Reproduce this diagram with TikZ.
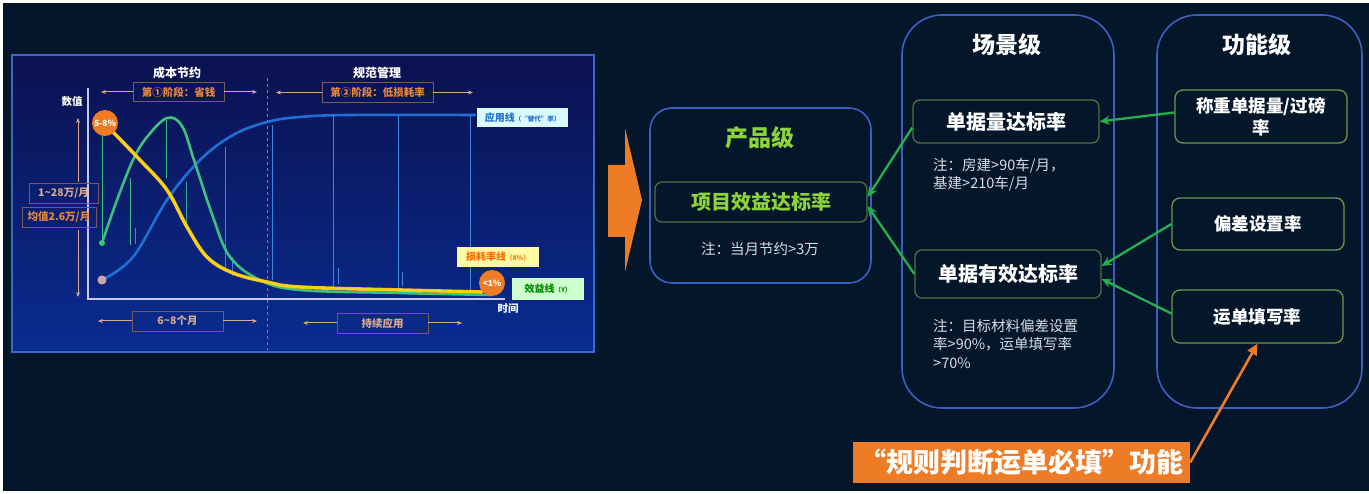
\documentclass[tikz,border=0pt]{standalone}
\usepackage{fontspec}
\setmainfont{Noto Sans CJK SC}
\usetikzlibrary{arrows.meta,shapes.geometric}

\definecolor{bg}{HTML}{03162A}
\definecolor{panelTop}{HTML}{0B1150}
\definecolor{panelBot}{HTML}{0A2C90}
\definecolor{panelEdge}{HTML}{3A6AC8}
\definecolor{frameBlue}{HTML}{3C5FC0}
\definecolor{boxGreen}{HTML}{52703F}
\definecolor{funcGreen}{HTML}{6A9A4E}
\definecolor{linkGreen}{HTML}{22B050}
\definecolor{lime}{HTML}{8CD43C}
\definecolor{orangeA}{HTML}{EE7B26}
\definecolor{noteGray}{HTML}{D8DCE6}
\definecolor{curveBlue}{HTML}{1E70D4}
\definecolor{dropBlue}{HTML}{3C86E0}
\definecolor{curveGreen}{HTML}{3CC27E}
\definecolor{curveYellow}{HTML}{F2D51C}
\definecolor{tagOrange}{HTML}{E8883A}
\definecolor{tagTan}{HTML}{D9A88E}
\definecolor{tagEdge}{HTML}{7A5A5A}
\definecolor{axisLav}{HTML}{C8C8E8}

\newcommand\setsz[2]{\fontsize{#1}{#2}\selectfont}

\begin{document}
\begin{tikzpicture}[x=1pt,y=-1pt,
  frame/.style={draw=frameBlue,line width=1.6pt,fill=bg,rounded corners=#1,inner sep=0pt},
  lvltitle/.style={text=white,font=\setsz{23}{27}\bfseries},
  metric/.style={draw=boxGreen,line width=1.3pt,rounded corners=7pt,inner sep=0pt,
    text=white,font=\setsz{20}{24}\bfseries},
  funcbox/.style={draw=funcGreen,line width=1.3pt,rounded corners=8pt,inner sep=0pt,
    text=white,font=\setsz{17.5}{22}\bfseries,align=center},
  note/.style={text=noteGray,font=\setsz{14.5}{18.5},align=left,inner sep=0pt,anchor=north west},
  link/.style={draw=linkGreen,line width=2.3pt,-{Stealth[length=10pt,width=9pt]}},
  tag/.style={draw=tagEdge,line width=0.7pt,inner sep=0pt,text=tagOrange,font=\setsz{10.5}{12}\bfseries},
  period/.style={draw=tagEdge,line width=0.7pt,inner sep=0pt,text=tagTan,font=\setsz{10.5}{12}\bfseries},
  span/.style={draw=tagTan,line width=1pt,-{Stealth[length=5pt,width=4pt]}},
  charttxt/.style={text=white,font=\setsz{12}{14}\bfseries,inner sep=0pt},
  badge/.style={circle,fill=orangeA,minimum size=26pt,inner sep=0pt,text=white,font=\setsz{8.5}{10}\bfseries},
  legend/.style={inner sep=0pt,minimum height=19pt}
]
\useasboundingbox (0,0) rectangle (1369,494);
\fill[white] (0,0) rectangle (1369,494);
\fill[bg] (3,3) rectangle (1369,491);

% ---------------- chart panel ----------------
\shade[top color=panelTop,bottom color=panelBot] (12,55) rectangle (594,352);
\draw[panelEdge,line width=1.5pt] (12,55) rectangle (594,352);

% phase divider
\draw[draw=white!40!panelBot,line width=0.8pt,dashed] (267,78) -- (267,350);

% axes
\draw[axisLav,line width=1.2pt] (88,88) -- (88,299) -- (505,299);
\node[charttxt,font=\setsz{10.5}{12}\bfseries] (ylab) at (72,102) {数值};
\node[charttxt,font=\setsz{10.5}{12}\bfseries] (xlab) at (508,309) {时间};

% drop lines under the curves
\begin{scope}[line width=1pt]
  \draw[curveGreen] (102,132) -- (102,243);
  \draw[curveGreen] (130,178) -- (130,245);
  \draw[curveGreen] (166,120) -- (166,178);
  \draw[curveGreen!70!curveBlue] (186,182) -- (186,226);
  \draw[dropBlue] (135,228) -- (135,244);
  \draw[dropBlue] (225,147) -- (225,272);
  \draw[dropBlue] (232,257) -- (232,276);
  \draw[dropBlue] (272,125) -- (272,280);
  \draw[dropBlue] (333,116) -- (333,292);
  \draw[dropBlue] (338,268) -- (338,284);
  \draw[dropBlue] (398,116) -- (398,292);
  \draw[dropBlue] (402,272) -- (402,286);
  \draw[dropBlue] (470,116) -- (470,292);
\end{scope}

% curves
\draw[curveBlue,line width=2.6pt,line cap=round] plot[smooth,tension=0.6] coordinates
  {(102,280) (133,257) (167,200) (200,160) (233,135) (267,122) (300,117) (350,115) (475,115)};
\draw[curveGreen,line width=2.6pt,line cap=round] plot[smooth,tension=0.6] coordinates
  {(102,243) (117,200) (133,160) (147,137) (167,118) (182,126) (194,160) (213,217) (230,257) (260,280) (300,290) (400,293) (492,295)};
\draw[curveYellow!70!orange,line width=3.6pt,line cap=round] plot[smooth,tension=0.6] coordinates
  {(112,131) (140,160) (167,190) (187,227) (207,257) (233,273) (267,282) (300,287) (400,290) (482,292)};
\draw[curveYellow,line width=2.2pt,line cap=round] plot[smooth,tension=0.6] coordinates
  {(112,131) (140,160) (167,190) (187,227) (207,257) (233,273) (267,282) (300,287) (400,290) (482,292)};

% curve start markers
\node[circle,fill=curveGreen!80!green,minimum size=6pt,inner sep=0pt] (g0) at (102,243) {};
\node[circle,draw=pink!80!red,fill=gray!60,line width=1pt,minimum size=8pt,inner sep=0pt] (b0) at (102,280) {};

% phase headings
\node[charttxt] (ph1t) at (177,73) {成本节约};
\node[charttxt] (ph2t) at (377,73) {规范管理};
\node[tag,minimum width=91pt,minimum height=19pt] (ph1) at (178.5,92) {第①阶段：省钱};
\node[tag,minimum width=111pt,minimum height=20pt] (ph2) at (377.5,92.5) {第②阶段：低损耗率};
\coordinate (ph1l) at (101,92);
\coordinate (ph1r) at (257,92);
\coordinate (ph2l) at (276,92.5);
\coordinate (ph2r) at (473,92.5);
\draw[span] (ph1.west) -- (ph1l);
\draw[span] (ph1.east) -- (ph1r);
\draw[span] (ph2.west) -- (ph2l);
\draw[span] (ph2.east) -- (ph2r);

% duration boxes
\node[period,minimum width=91pt,minimum height=20pt] (m1) at (177.5,321) {6\textasciitilde8个月};
\node[period,minimum width=91pt,minimum height=20pt] (m2) at (382.5,323) {持续应用};
\coordinate (m1l) at (98,321);
\coordinate (m1r) at (257,321);
\coordinate (m2l) at (303,323);
\coordinate (m2r) at (462,323);
\draw[span] (m1.west) -- (m1l);
\draw[span] (m1.east) -- (m1r);
\draw[span] (m2.west) -- (m2l);
\draw[span] (m2.east) -- (m2r);

% saving range on the value axis
\node[period,text=tagTan,minimum width=69pt,minimum height=20pt] (r1) at (63.5,193) {1\textasciitilde28万/月};
\node[period,text=tagOrange,minimum width=74pt,minimum height=20pt] (r2) at (59,217) {均值2.6万/月};
\coordinate (rtop) at (78,118);
\coordinate (rbot) at (78,297);
\draw[span] (78,182) coordinate (r1top) -- (rtop);
\draw[span] (78,230) coordinate (r2bot) -- (rbot);

% badges
\node[badge] (c58) at (105,123) {5-8\%};
\node[badge] (c1) at (492,283) {<1\%};

% legend tags
\node[legend,fill=blue!10!cyan!15!white,minimum width=91pt,text=curveBlue] (lapp) at (522.5,118)
  {\setsz{10}{11}\bfseries 应用线\setsz{6.5}{7}（“替代”率）};
\node[legend,fill=yellow!35!white,minimum width=82pt,minimum height=20pt,text=orange!85!red] (lloss) at (498,257)
  {\setsz{10}{11}\bfseries 损耗率线\setsz{6.5}{7}（X\%）};
\node[legend,fill=green!20!white,minimum width=72pt,minimum height=22pt,text=green!55!black] (leff) at (548,289)
  {\setsz{10}{11}\bfseries 效益线\setsz{6.5}{7}（Y）};

% ---------------- transition arrow ----------------
\fill[orangeA] (608,165) -- (625,165) -- (625,128) -- (642,200) -- (625,272) -- (625,237) -- (608,237) -- cycle;

% ---------------- level frames ----------------
\node[frame=22pt,minimum width=221pt,minimum height=175pt] (prod) at (760.5,195.5) {};
\node[frame=40pt,minimum width=212pt,minimum height=393pt] (scene) at (1008,211.5) {};
\node[frame=40pt,minimum width=205pt,minimum height=393pt] (func) at (1259.5,211.5) {};

\node[lvltitle,text=lime] (prodt) at (760,138) {产品级};
\node[lvltitle] (scenet) at (1007,45) {场景级};
\node[lvltitle] (funct) at (1257,45) {功能级};

% product level
\node[metric,text=lime,minimum width=212pt,minimum height=40pt] (p1) at (761,202) {项目效益达标率};
\node[note,anchor=center] (p1n) at (760,249) {注：当月节约>3万};

% scene level
\node[metric,minimum width=186pt,minimum height=43pt] (s1) at (1006,121.5) {单据量达标率};
\node[note] (s1n) at (933,158) {注：房建>90车/月，\\基建>210车/月};
\node[metric,minimum width=186pt,minimum height=48pt] (s2) at (1008,274) {单据有效达标率};
\node[note] (s2n) at (933,319) {注：目标材料偏差设置\\率>90\%，运单填写率\\>70\%};

% function level
\node[funcbox,minimum width=172pt,minimum height=53pt] (fa) at (1261,116.5) {称重单据量/过磅\\率};
\node[funcbox,minimum width=172pt,minimum height=52pt] (fb) at (1258,224) {偏差设置率};
\node[funcbox,minimum width=171pt,minimum height=53pt] (fc) at (1257.5,316.5) {运单填写率};

% roll-up links
\draw[link] ([yshift=4pt]fa.west) -- (s1.east);
\draw[link] (fb.west) -- ([yshift=8pt]s2.east);
\draw[link] ([yshift=3pt]fc.west) -- ([yshift=-5pt]s2.east);
\draw[link] ([yshift=-6pt]s1.west) -- ([yshift=5pt]p1.east);
\draw[link] (s2.west) -- ([yshift=-4pt]p1.east);

% feature banner
\node[fill=orangeA,minimum width=337pt,minimum height=41pt,inner sep=0pt,text=white,
  font=\setsz{27}{30}\bfseries] (rule) at (1021.5,462.5) {“规则判断运单必填”功能};
\draw[orangeA,line width=2.6pt,-{Triangle[length=11pt,width=10pt]}] (rule.east) -- (fc.south);

\end{tikzpicture}
\end{document}
